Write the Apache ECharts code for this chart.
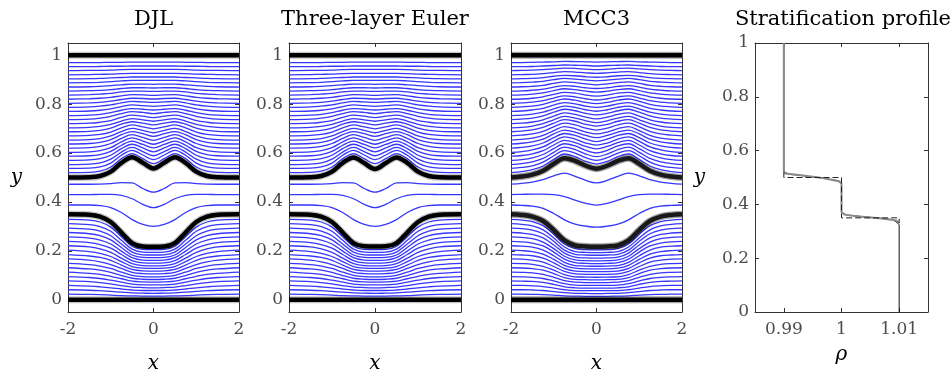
<!DOCTYPE html>
<html>
<head>
<meta charset="utf-8">
<title>Streamlines</title>
<script src="https://cdn.jsdelivr.net/npm/echarts@6/dist/echarts.min.js"></script>
<style>
  html, body { margin: 0; padding: 0; background: #fff; }
  #chart { width: 950px; height: 374px; }
</style>
</head>
<body>
<div id="chart"></div>
<script>
// the waves are symmetric, so only x >= 0 is kept and the rest is mirrored
const xHalf = [0, 0.25, 0.5, 0.75, 1, 1.25, 1.5, 2];
const xHalfMcc = [0, 0.25, 0.5, 0.75, 1, 1.25, 1.5, 1.75, 2];

const xTicks = [-2, 0, 2];
const yTicks = [0, 0.2, 0.4, 0.6, 0.8, 1];
const rhoTicks = [0.99, 1, 1.01];

// ---- DJL ----
const djlTop = [0.537, 0.56, 0.583, 0.56, 0.524, 0.506, 0.501, 0.5];
const djlBottom = [0.217, 0.218, 0.232, 0.275, 0.318, 0.34, 0.348, 0.35];
const djlUpper = [
  [0.557, 0.577, 0.598, 0.577, 0.543, 0.526, 0.521, 0.52],
  [0.573, 0.592, 0.611, 0.591, 0.559, 0.543, 0.538, 0.537],
  [0.589, 0.606, 0.623, 0.604, 0.575, 0.56, 0.555, 0.553],
  [0.605, 0.621, 0.636, 0.618, 0.591, 0.577, 0.572, 0.57],
  [0.621, 0.635, 0.649, 0.632, 0.607, 0.594, 0.589, 0.587],
  [0.636, 0.649, 0.662, 0.646, 0.622, 0.61, 0.605, 0.603],
  [0.652, 0.664, 0.675, 0.66, 0.639, 0.627, 0.622, 0.62],
  [0.668, 0.679, 0.688, 0.675, 0.655, 0.644, 0.639, 0.637],
  [0.683, 0.693, 0.701, 0.688, 0.67, 0.659, 0.655, 0.653],
  [0.699, 0.707, 0.715, 0.703, 0.686, 0.676, 0.672, 0.67],
  [0.715, 0.722, 0.728, 0.718, 0.702, 0.693, 0.689, 0.687],
  [0.73, 0.736, 0.741, 0.731, 0.717, 0.709, 0.705, 0.703],
  [0.745, 0.751, 0.755, 0.746, 0.733, 0.726, 0.722, 0.72],
  [0.761, 0.766, 0.769, 0.761, 0.75, 0.743, 0.739, 0.737],
  [0.776, 0.779, 0.782, 0.775, 0.765, 0.758, 0.755, 0.753],
  [0.791, 0.794, 0.797, 0.79, 0.781, 0.775, 0.772, 0.77],
  [0.807, 0.809, 0.811, 0.805, 0.797, 0.792, 0.789, 0.787],
  [0.821, 0.823, 0.824, 0.819, 0.812, 0.807, 0.805, 0.803],
  [0.836, 0.838, 0.839, 0.834, 0.828, 0.824, 0.822, 0.82],
  [0.852, 0.853, 0.853, 0.85, 0.844, 0.841, 0.839, 0.837],
  [0.866, 0.867, 0.867, 0.864, 0.859, 0.856, 0.855, 0.853],
  [0.881, 0.882, 0.882, 0.879, 0.876, 0.873, 0.871, 0.87],
  [0.897, 0.897, 0.897, 0.895, 0.892, 0.889, 0.888, 0.887],
  [0.911, 0.911, 0.911, 0.909, 0.907, 0.905, 0.904, 0.903],
  [0.926, 0.926, 0.926, 0.925, 0.923, 0.922, 0.921, 0.92],
  [0.942, 0.942, 0.942, 0.941, 0.939, 0.938, 0.938, 0.937],
  [0.956, 0.956, 0.956, 0.955, 0.955, 0.954, 0.953, 0.953],
  [0.972, 0.972, 0.972, 0.971, 0.971, 0.97, 0.97, 0.97]
];
const djlMiddle = [
  [0.44, 0.455, 0.478, 0.479, 0.475, 0.473, 0.4725, 0.4725],
  [0.377, 0.39, 0.413, 0.427, 0.431, 0.431, 0.43, 0.43],
  [0.3, 0.308, 0.328, 0.357, 0.377, 0.385, 0.3875, 0.3875]
];
const djlLower = [
  [0.205, 0.206, 0.219, 0.258, 0.297, 0.318, 0.326, 0.329],
  [0.194, 0.195, 0.207, 0.243, 0.28, 0.299, 0.307, 0.311],
  [0.183, 0.184, 0.195, 0.228, 0.262, 0.281, 0.289, 0.293],
  [0.172, 0.173, 0.183, 0.214, 0.245, 0.262, 0.27, 0.275],
  [0.161, 0.162, 0.172, 0.199, 0.228, 0.244, 0.252, 0.257],
  [0.15, 0.151, 0.16, 0.185, 0.211, 0.226, 0.234, 0.239],
  [0.139, 0.14, 0.148, 0.17, 0.194, 0.208, 0.216, 0.221],
  [0.128, 0.129, 0.136, 0.156, 0.177, 0.19, 0.197, 0.203],
  [0.117, 0.118, 0.124, 0.142, 0.161, 0.173, 0.179, 0.185],
  [0.106, 0.107, 0.112, 0.128, 0.144, 0.155, 0.162, 0.167],
  [0.094, 0.095, 0.1, 0.113, 0.128, 0.138, 0.144, 0.149],
  [0.083, 0.084, 0.088, 0.099, 0.112, 0.121, 0.126, 0.131],
  [0.072, 0.073, 0.076, 0.086, 0.096, 0.104, 0.108, 0.113],
  [0.061, 0.061, 0.064, 0.072, 0.08, 0.087, 0.091, 0.095],
  [0.049, 0.05, 0.052, 0.058, 0.065, 0.07, 0.074, 0.077],
  [0.038, 0.038, 0.04, 0.044, 0.049, 0.053, 0.056, 0.059],
  [0.026, 0.027, 0.028, 0.031, 0.034, 0.037, 0.039, 0.041],
  [0.015, 0.015, 0.016, 0.017, 0.019, 0.021, 0.022, 0.023]
];

// ---- Three-layer Euler (reads the same as DJL apart from the upper dip) ----
const eulerTop = [0.535, 0.559, 0.582, 0.56, 0.524, 0.506, 0.501, 0.5];
const eulerBottom = [0.218, 0.219, 0.232, 0.275, 0.318, 0.34, 0.348, 0.35];
const eulerUpper = djlUpper;
const eulerMiddle = djlMiddle;
const eulerLower = djlLower;

// ---- MCC3 ----
const mccTop = [0.536, 0.548, 0.568, 0.579, 0.556, 0.528, 0.512, 0.504, 0.5];
const mccBottom = [0.217, 0.218, 0.222, 0.243, 0.285, 0.322, 0.34, 0.347, 0.35];
const mccUpper = [
  [0.555, 0.566, 0.585, 0.596, 0.574, 0.547, 0.532, 0.524, 0.52],
  [0.57, 0.581, 0.6, 0.61, 0.589, 0.563, 0.548, 0.541, 0.537],
  [0.585, 0.596, 0.614, 0.624, 0.603, 0.578, 0.564, 0.557, 0.553],
  [0.601, 0.611, 0.629, 0.638, 0.618, 0.594, 0.58, 0.573, 0.57],
  [0.617, 0.627, 0.643, 0.652, 0.633, 0.61, 0.597, 0.59, 0.587],
  [0.632, 0.641, 0.657, 0.666, 0.648, 0.625, 0.613, 0.606, 0.603],
  [0.647, 0.657, 0.672, 0.68, 0.663, 0.641, 0.629, 0.623, 0.62],
  [0.663, 0.672, 0.686, 0.694, 0.678, 0.657, 0.646, 0.64, 0.637],
  [0.678, 0.686, 0.7, 0.708, 0.692, 0.672, 0.661, 0.656, 0.653],
  [0.694, 0.702, 0.715, 0.722, 0.707, 0.689, 0.678, 0.673, 0.67],
  [0.71, 0.717, 0.73, 0.737, 0.722, 0.705, 0.695, 0.69, 0.687],
  [0.724, 0.732, 0.743, 0.75, 0.736, 0.72, 0.71, 0.705, 0.703],
  [0.74, 0.747, 0.758, 0.764, 0.751, 0.736, 0.727, 0.722, 0.72],
  [0.756, 0.762, 0.773, 0.779, 0.767, 0.752, 0.743, 0.739, 0.737],
  [0.771, 0.777, 0.787, 0.792, 0.781, 0.767, 0.759, 0.755, 0.753],
  [0.787, 0.792, 0.801, 0.806, 0.796, 0.783, 0.776, 0.772, 0.77],
  [0.802, 0.807, 0.816, 0.821, 0.811, 0.799, 0.792, 0.789, 0.787],
  [0.817, 0.822, 0.83, 0.834, 0.825, 0.814, 0.808, 0.805, 0.803],
  [0.833, 0.837, 0.845, 0.848, 0.84, 0.83, 0.824, 0.821, 0.82],
  [0.849, 0.853, 0.859, 0.863, 0.855, 0.846, 0.841, 0.838, 0.837],
  [0.864, 0.867, 0.873, 0.876, 0.87, 0.861, 0.857, 0.854, 0.853],
  [0.879, 0.883, 0.888, 0.891, 0.885, 0.877, 0.873, 0.871, 0.87],
  [0.895, 0.898, 0.902, 0.905, 0.9, 0.893, 0.89, 0.888, 0.887],
  [0.91, 0.912, 0.916, 0.918, 0.914, 0.908, 0.905, 0.904, 0.903],
  [0.926, 0.928, 0.931, 0.933, 0.929, 0.925, 0.922, 0.921, 0.92],
  [0.941, 0.943, 0.946, 0.947, 0.944, 0.941, 0.939, 0.938, 0.937],
  [0.956, 0.958, 0.959, 0.96, 0.958, 0.956, 0.954, 0.953, 0.953],
  [0.972, 0.973, 0.974, 0.975, 0.973, 0.972, 0.971, 0.97, 0.97]
];
const mccMiddle = [
  [0.478, 0.488, 0.505, 0.518, 0.507, 0.491, 0.481, 0.476, 0.4725],
  [0.387, 0.394, 0.407, 0.422, 0.43, 0.432, 0.432, 0.431, 0.43],
  [0.297, 0.301, 0.309, 0.327, 0.353, 0.374, 0.383, 0.386, 0.3875]
];
const mccLower = [
  [0.204, 0.205, 0.209, 0.228, 0.268, 0.303, 0.32, 0.326, 0.329],
  [0.193, 0.194, 0.197, 0.216, 0.253, 0.286, 0.302, 0.308, 0.311],
  [0.182, 0.183, 0.186, 0.203, 0.239, 0.27, 0.285, 0.291, 0.293],
  [0.17, 0.171, 0.174, 0.191, 0.224, 0.253, 0.267, 0.273, 0.275],
  [0.159, 0.16, 0.163, 0.178, 0.209, 0.236, 0.25, 0.255, 0.257],
  [0.148, 0.149, 0.152, 0.166, 0.195, 0.22, 0.232, 0.237, 0.239],
  [0.137, 0.138, 0.14, 0.153, 0.18, 0.203, 0.215, 0.219, 0.221],
  [0.126, 0.126, 0.129, 0.141, 0.165, 0.187, 0.197, 0.201, 0.203],
  [0.115, 0.115, 0.117, 0.128, 0.151, 0.17, 0.18, 0.183, 0.185],
  [0.104, 0.104, 0.106, 0.116, 0.136, 0.154, 0.162, 0.166, 0.167],
  [0.092, 0.093, 0.094, 0.103, 0.121, 0.137, 0.145, 0.148, 0.149],
  [0.081, 0.082, 0.083, 0.091, 0.107, 0.121, 0.127, 0.13, 0.131],
  [0.07, 0.07, 0.072, 0.078, 0.092, 0.104, 0.11, 0.112, 0.113],
  [0.059, 0.059, 0.06, 0.066, 0.077, 0.087, 0.092, 0.094, 0.095],
  [0.048, 0.048, 0.049, 0.053, 0.063, 0.071, 0.075, 0.076, 0.077],
  [0.037, 0.037, 0.037, 0.041, 0.048, 0.054, 0.057, 0.059, 0.059],
  [0.025, 0.026, 0.026, 0.029, 0.033, 0.038, 0.04, 0.041, 0.041],
  [0.014, 0.014, 0.015, 0.016, 0.019, 0.021, 0.022, 0.023, 0.023]
];

// ---- stratification profile, [rho, y] ----
const profileSmooth = [[0.99, 1], [0.99, 0.52], [0.991, 0.512], [0.996, 0.5], [0.9995, 0.488], [1.0, 0.48],
  [1.0, 0.37], [1.001, 0.36], [1.005, 0.352], [1.009, 0.343], [1.01, 0.325], [1.01, 0]];
const profileGrey = [[0.99, 1], [0.99, 0.525], [0.9902, 0.515], [0.993, 0.508], [0.997, 0.497], [0.9995, 0.486],
  [1.0, 0.478], [1.0, 0.372], [1.0005, 0.362], [1.003, 0.355], [1.007, 0.348], [1.0095, 0.34], [1.01, 0.33]];
const profileStep = [[0.99, 0.52], [0.99, 0.5], [1.0, 0.5], [1.0, 0.35], [1.01, 0.35], [1.01, 0.33]];

const serif = '"DejaVu Serif", "Liberation Serif", serif';

function mirror(xs, row) {
  const pts = [];
  for (let i = xs.length - 1; i > 0; i--) pts.push([-xs[i], row[i]]);
  for (let i = 0; i < xs.length; i++) pts.push([xs[i], row[i]]);
  return pts;
}

const panels = [
  {title: 'DJL', left: 68, width: 171, xs: xHalf, top: djlTop, bottom: djlBottom,
    upper: djlUpper, middle: djlMiddle, lower: djlLower, core: '#000', halo: 'rgba(0,0,0,0.22)', yName: 'y'},
  {title: 'Three-layer Euler', left: 289, width: 172, xs: xHalf, top: eulerTop, bottom: eulerBottom,
    upper: eulerUpper, middle: eulerMiddle, lower: eulerLower, core: '#000', halo: 'rgba(0,0,0,0.22)', yName: ''},
  {title: 'MCC3', left: 511, width: 171, xs: xHalfMcc, top: mccTop, bottom: mccBottom,
    upper: mccUpper, middle: mccMiddle, lower: mccLower, core: 'rgba(0,0,0,0.85)', halo: 'rgba(0,0,0,0.35)', yName: ''}
];

const grids = [], xAxes = [], yAxes = [], series = [], graphics = [];
const boxLine = {show: true, onZero: false, lineStyle: {color: '#333', width: 1}};
const tickIn = {inside: true, length: 4, lineStyle: {color: '#333'}};
const labelStyle = {color: '#4d4d4d', fontFamily: serif, fontSize: 17};

function addBox(i, left, width, xmin, xmax, ymin, ymax, xt, yt, xName, yName, xGap, yGap) {
  // outerBoundsMode none: keep the grid exactly where it is put
  grids.push({left: left, top: 43, width: width, height: 269, outerBoundsMode: 'none', containLabel: false});
  xAxes.push({type: 'value', gridIndex: i, min: xmin, max: xmax, position: 'bottom',
    axisLine: boxLine, splitLine: {show: false},
    axisTick: Object.assign({customValues: xt}, tickIn),
    axisLabel: Object.assign({customValues: xt, margin: 9}, labelStyle),
    name: xName, nameLocation: 'middle', nameGap: xGap,
    nameTextStyle: {fontFamily: serif, fontStyle: 'italic', fontSize: 20, color: '#000'}});
  xAxes.push({type: 'value', gridIndex: i, min: xmin, max: xmax, position: 'top',
    axisLine: boxLine, splitLine: {show: false}, axisLabel: {show: false},
    axisTick: Object.assign({customValues: xt}, tickIn)});
  yAxes.push({type: 'value', gridIndex: i, min: ymin, max: ymax, position: 'left',
    axisLine: boxLine, splitLine: {show: false},
    axisTick: Object.assign({customValues: yt}, tickIn),
    axisLabel: Object.assign({customValues: yt, margin: 6}, labelStyle),
    name: yName, nameLocation: 'middle', nameGap: yGap, nameRotate: 0,
    nameTextStyle: {fontFamily: serif, fontStyle: 'italic', fontSize: 20, color: '#000'}});
  yAxes.push({type: 'value', gridIndex: i, min: ymin, max: ymax, position: 'right',
    axisLine: boxLine, splitLine: {show: false}, axisLabel: {show: false},
    axisTick: Object.assign({customValues: yt}, tickIn)});
}

function line(i, data, color, width, z, extra) {
  return Object.assign({
    type: 'line', xAxisIndex: 2 * i, yAxisIndex: 2 * i, data: data,
    showSymbol: false, silent: true, animation: false, smooth: 0.35,
    lineStyle: {color: color, width: width}, z: z
  }, extra || {});
}

panels.forEach(function (p, i) {
  addBox(i, p.left, p.width, -2, 2, -0.05, 1.05, xTicks, yTicks, 'x', p.yName, 42, 46);
  p.upper.concat(p.middle, p.lower).forEach(function (row) {
    series.push(line(i, mirror(p.xs, row), '#3636ff', 1.3, 2));
  });
  // thick black lines: walls and the two interfaces, with a soft grey edge
  [[[-2, 1], [2, 1]], [[-2, 0], [2, 0]], mirror(p.xs, p.top), mirror(p.xs, p.bottom)].forEach(function (d, k) {
    const col = k < 2 ? '#000' : p.core;
    series.push(line(i, d, p.halo, 7, 3));
    series.push(line(i, d, col, 4.5, 4));
  });
  graphics.push({type: 'text', x: p.left + p.width / 2, y: 20,
    style: {text: p.title, font: '21px ' + serif, fill: '#000', align: 'center', verticalAlign: 'middle'}});
});

// stratification panel
addBox(3, 755, 173, 0.985, 1.015, 0, 1, rhoTicks, yTicks, 'ρ', 'y', 33, 50);
series.push(line(3, profileSmooth, '#111', 1, 2, {smooth: false}));
series.push(line(3, profileGrey, '#8a8a8a', 2, 3, {smooth: false}));
series.push(line(3, profileStep, '#222', 1, 4, {smooth: false, lineStyle: {color: '#222', width: 1, type: [6, 3]}}));
graphics.push({type: 'text', x: 843, y: 20,
  style: {text: 'Stratification profile', font: '21px ' + serif, fill: '#000', align: 'center', verticalAlign: 'middle'}});

const chart = echarts.init(document.getElementById('chart'));
chart.setOption({
  animation: false,
  backgroundColor: '#fff',
  grid: grids,
  xAxis: xAxes,
  yAxis: yAxes,
  series: series,
  graphic: graphics
});
</script>
</body>
</html>
